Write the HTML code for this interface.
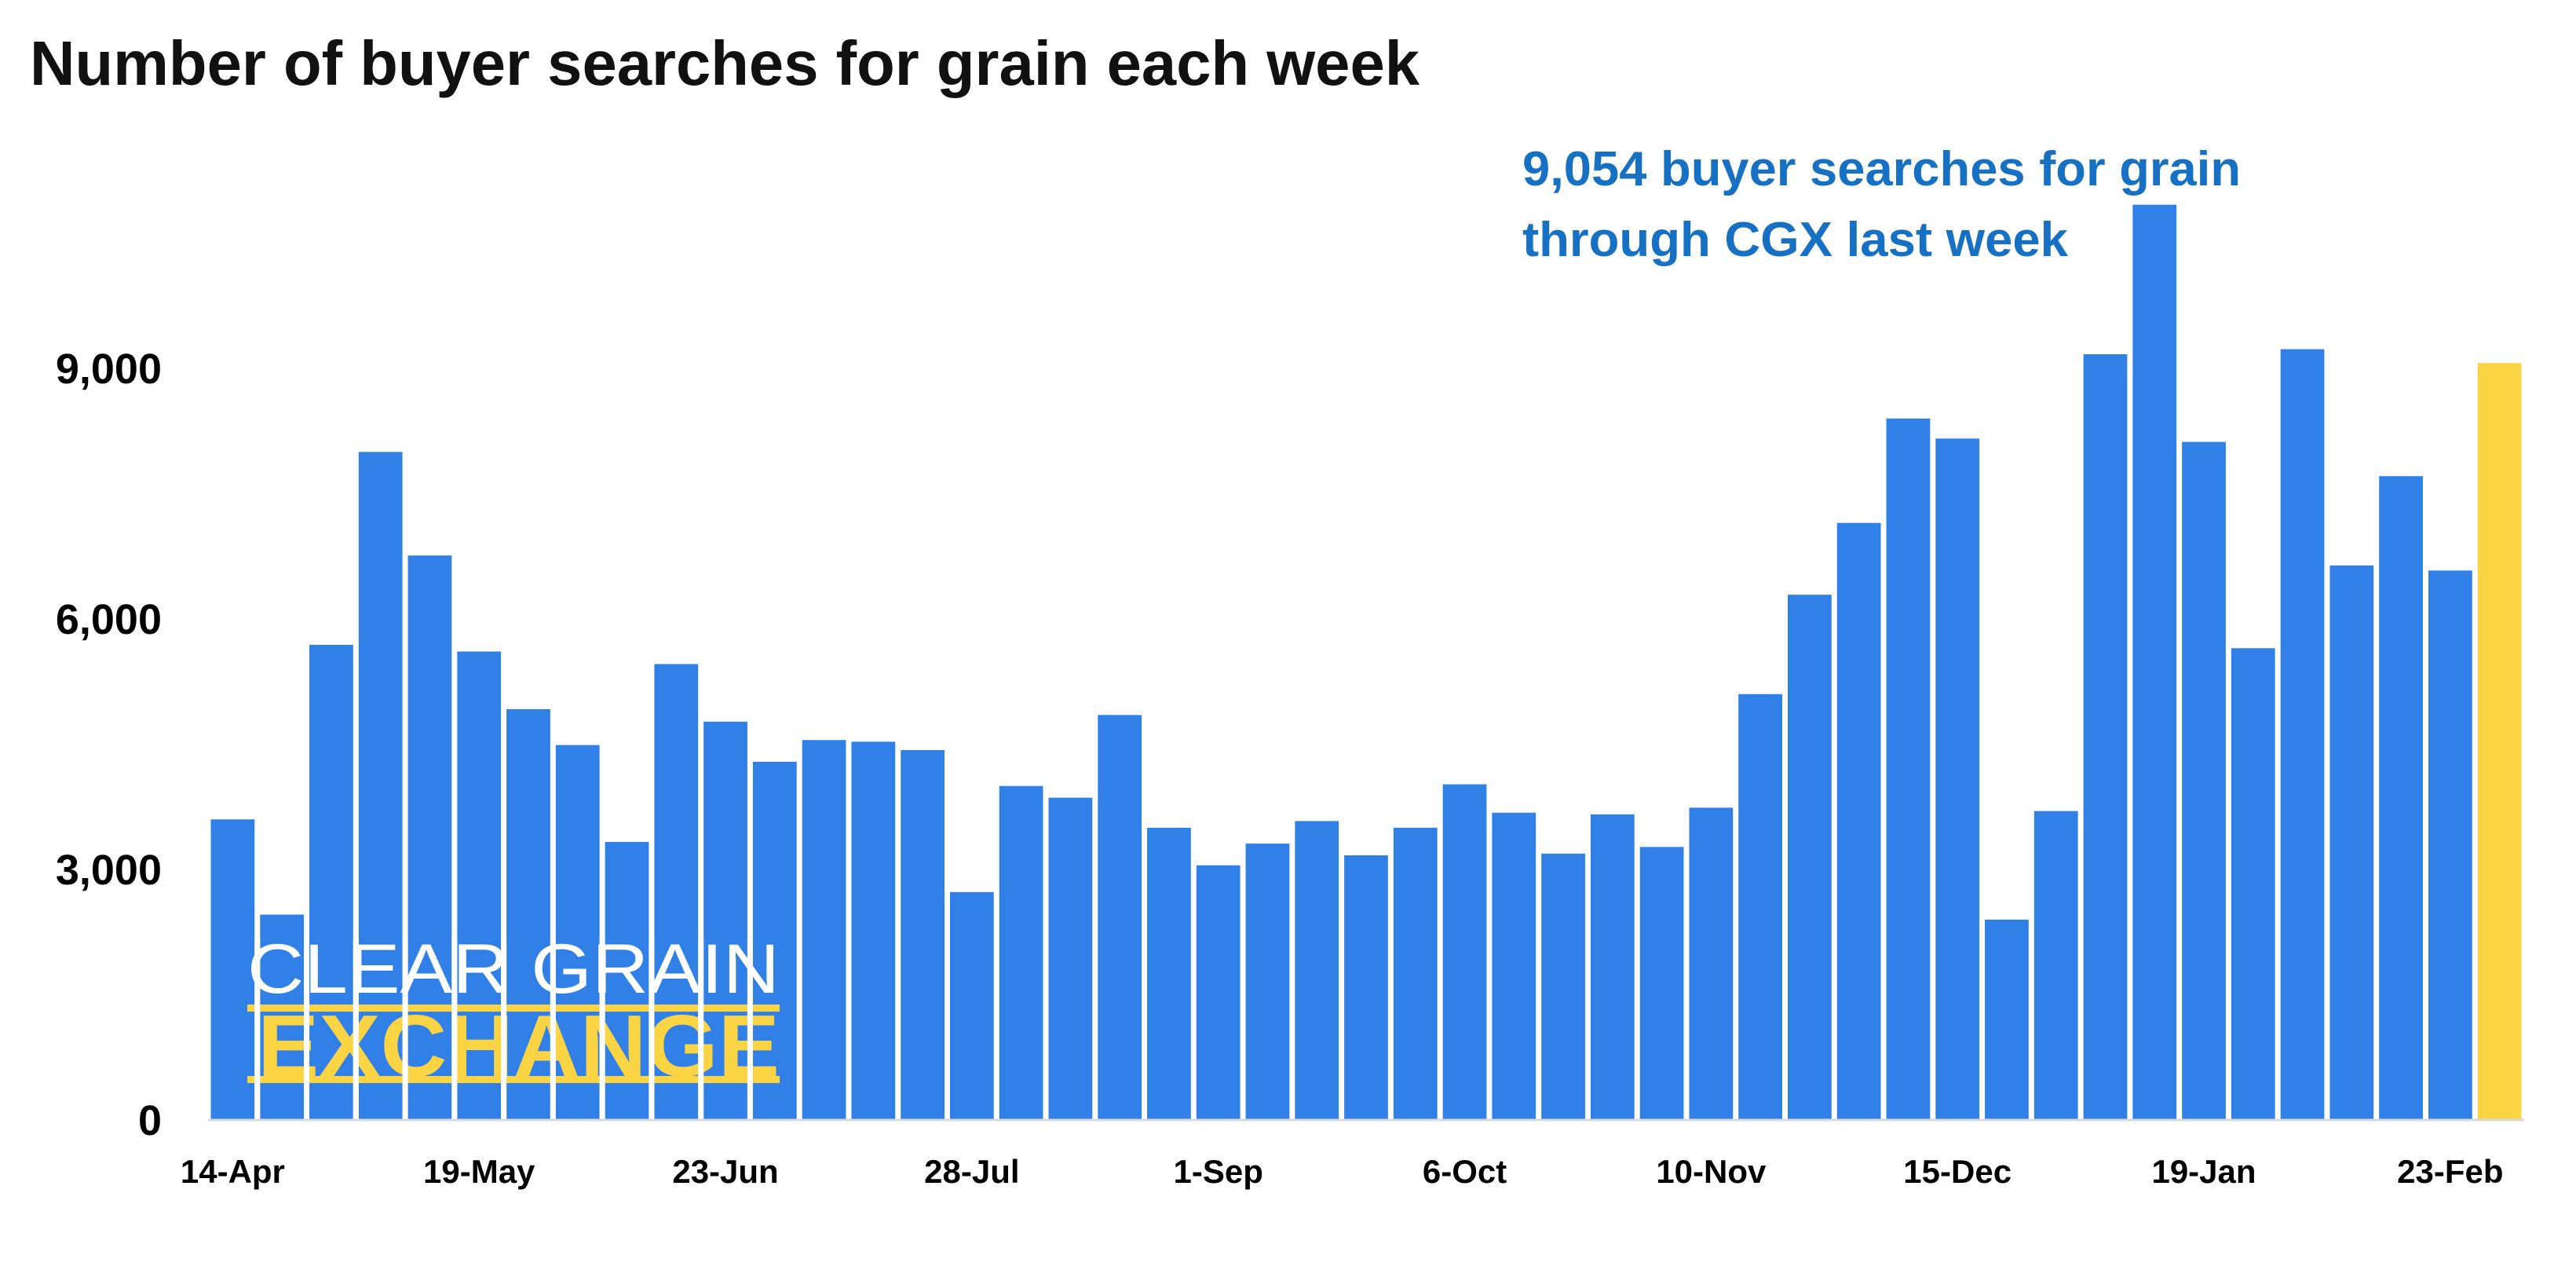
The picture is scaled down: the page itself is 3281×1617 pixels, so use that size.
<!DOCTYPE html>
<html><head><meta charset="utf-8"><style>
html,body{margin:0;padding:0;background:#fff;}
svg{display:block;}
</style></head><body>
<svg id="chart" width="3281" height="1617" viewBox="0 0 3281 1617" xmlns="http://www.w3.org/2000/svg" font-family="'Liberation Sans', sans-serif">
<text x="38" y="108" font-size="80" font-weight="bold" fill="#111" textLength="1770" lengthAdjust="spacingAndGlyphs">Number of buyer searches for grain each week</text>
<text x="1939" y="236" font-size="62" font-weight="bold" fill="#1670c4" textLength="915" lengthAdjust="spacingAndGlyphs">9,054 buyer searches for grain</text>
<text x="1939" y="326" font-size="62" font-weight="bold" fill="#1670c4" textLength="695" lengthAdjust="spacingAndGlyphs">through CGX last week</text>
<g id="yaxis"></g>
<g id="bars"></g>
<g id="logo">
  <text x="315" y="1264" font-size="89" fill="#fff" textLength="678" lengthAdjust="spacingAndGlyphs">CLEAR GRAIN</text>
  <rect x="315" y="1279" width="678" height="9" fill="#fbd444"/>
  <text x="328" y="1370" font-size="111" font-weight="bold" fill="#fbd444" textLength="665" lengthAdjust="spacingAndGlyphs">EXCHANGE</text>
  <rect x="315" y="1370" width="678" height="9" fill="#fbd444"/>
</g>
<g id="gaps"></g>
<line x1="265" y1="1426" x2="3215" y2="1426" stroke="#d9d9d9" stroke-width="3"/>
<g id="xaxis"></g>
</svg>
<script>
const values = [3590,2450,5680,7990,6750,5600,4910,4480,3320,5450,4760,4280,4540,4520,4420,2720,3990,3850,4840,3490,3040,3300,3570,3160,3490,4010,3670,3180,3650,3260,3730,5090,6280,7140,8390,8150,2390,3690,9160,10950,8110,5640,9220,6630,7700,6570,9054];
const xLabels = ["14-Apr","19-May","23-Jun","28-Jul","1-Sep","6-Oct","10-Nov","15-Dec","19-Jan","23-Feb"];
const xLabelIndex = [0,5,10,15,20,25,30,35,40,45];
const yTicks = [0,3000,6000,9000];
const yTickLabels = ["0","3,000","6,000","9,000"];
const highlightIndex = 46;

const NS = "http://www.w3.org/2000/svg";
const x0 = 265, x1 = 3215, base = 1425, yTop = 468, yTopVal = 9000;
const pitch = (x1 - x0) / values.length;
const gap = 7;
function xScale(i){ return x0 + i * pitch; }
function yScale(v){ return base - (base - yTop) * v / yTopVal; }

const bars = document.getElementById('bars');
values.forEach((v, i) => {
  const r = document.createElementNS(NS, 'rect');
  r.setAttribute('x', xScale(i) + gap/2);
  r.setAttribute('y', yScale(v));
  r.setAttribute('width', pitch - gap);
  r.setAttribute('height', base - yScale(v));
  r.setAttribute('fill', i === highlightIndex ? '#fbd444' : '#3080e8');
  
  
  bars.appendChild(r);
});

const gaps = document.getElementById('gaps');
for (let i = 1; i < 12; i++) {
  const g = document.createElementNS(NS, 'rect');
  g.setAttribute('x', xScale(i) - gap/2);
  g.setAttribute('y', 1195);
  g.setAttribute('width', gap);
  g.setAttribute('height', 1425 - 1195);
  g.setAttribute('fill', '#fff');
  
  
  gaps.appendChild(g);
}

const yaxis = document.getElementById('yaxis');
yTicks.forEach((t, i) => {
  const tx = document.createElementNS(NS, 'text');
  tx.setAttribute('x', 206);
  tx.setAttribute('y', yScale(t) + 20);
  tx.setAttribute('text-anchor', 'end');
  tx.setAttribute('font-size', '54');
  tx.setAttribute('font-weight', 'bold');
  tx.setAttribute('fill', '#000');
  tx.textContent = yTickLabels[i];
  
  
  yaxis.appendChild(tx);
});

const xaxis = document.getElementById('xaxis');
xLabels.forEach((lab, k) => {
  const i = xLabelIndex[k];
  const tx = document.createElementNS(NS, 'text');
  tx.setAttribute('x', xScale(i) + pitch/2);
  tx.setAttribute('y', 1506);
  tx.setAttribute('text-anchor', 'middle');
  tx.setAttribute('font-size', '42');
  tx.setAttribute('font-weight', 'bold');
  tx.setAttribute('fill', '#000');
  tx.textContent = lab;
  
  
  xaxis.appendChild(tx);
});
</script>
</body></html>
